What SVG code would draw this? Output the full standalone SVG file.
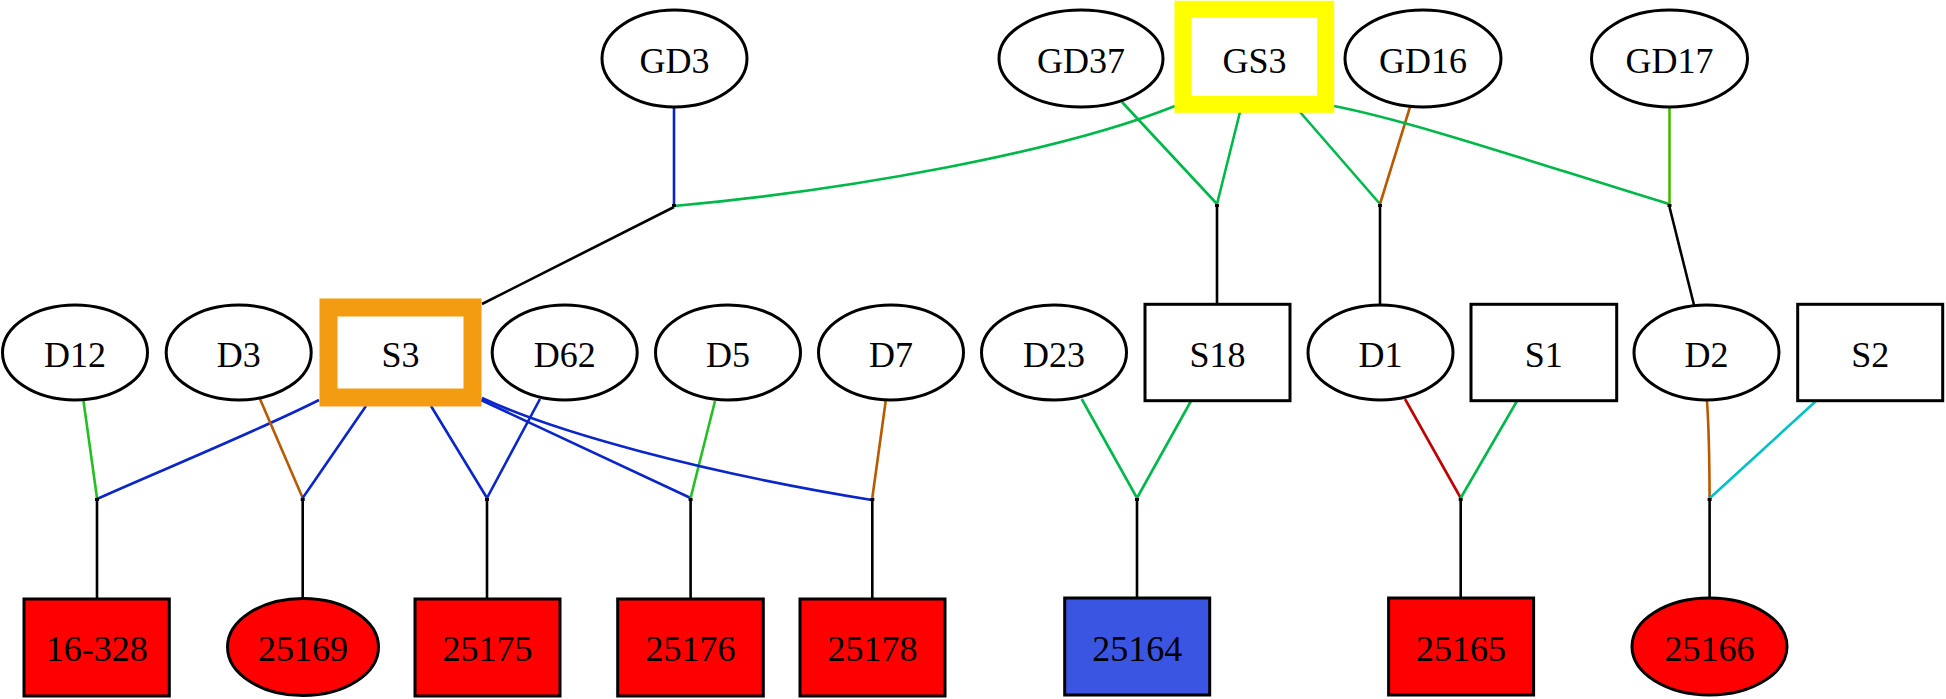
<svg xmlns="http://www.w3.org/2000/svg" width="1946" height="699" viewBox="0 0 1946 699">
<style>
.n{fill:#ffffff;stroke:#000;stroke-width:3}
.r{fill:#ff0000;stroke:#000;stroke-width:3}
.b{fill:#3a55e2;stroke:#000;stroke-width:3}
text{font-family:"Liberation Serif","Times New Roman",serif;font-size:36px;text-anchor:middle;fill:#000}
.e{fill:none;stroke-width:2.6}
.k{stroke:#000}
.bl{stroke:#0a26c8}
.g{stroke:#00b84a}
.lg{stroke:#22c022}
.yg{stroke:#44bb00}
.br{stroke:#b85a00}
.dr{stroke:#c00000}
.cy{stroke:#00c0c8}
.pt{fill:#000}
</style>
<rect width="1946" height="699" fill="#ffffff"/>
<g id="connectors">
<path class="e bl" d="M674,107 L674,205"/>
<path class="e g" d="M1175,106 C1060,152 850,190 674,206"/>
<path class="e k" d="M674,207 L482,304"/>
<path class="e g" d="M1122,102 L1217,204"/>
<path class="e g" d="M1240,112 L1217,204"/>
<path class="e k" d="M1217,207 L1217,304"/>
<path class="e g" d="M1300,112 L1380,204"/>
<path class="e br" d="M1410,107 L1380,204"/>
<path class="e k" d="M1380,207 L1380,305"/>
<path class="e g" d="M1334,106 C1415,122 1535,163 1669,204"/>
<path class="e yg" d="M1669.5,107 L1669.5,204"/>
<path class="e k" d="M1669.5,207 L1694,305"/>
<path class="e lg" d="M83.5,401 L97,498"/>
<path class="e bl" d="M319,400 C260,430 150,475 97,499"/>
<path class="e k" d="M97,501 L97,598"/>
<path class="e br" d="M260,399 L302.7,498"/>
<path class="e bl" d="M366,406 L302.7,498"/>
<path class="e k" d="M302.7,501 L302.7,598"/>
<path class="e bl" d="M431,406 L487,498"/>
<path class="e bl" d="M540,399 L487,498"/>
<path class="e k" d="M487,501 L487,598"/>
<path class="e bl" d="M481,400 L690.6,498"/>
<path class="e lg" d="M715,401 L690.6,498"/>
<path class="e k" d="M690.6,501 L690.6,598"/>
<path class="e bl" d="M482,398 C555,432 700,472 872,500"/>
<path class="e br" d="M885.7,401 L872.3,498"/>
<path class="e k" d="M872.3,501 L872.3,598"/>
<path class="e g" d="M1081.7,399 L1137,498"/>
<path class="e g" d="M1191,401 L1137,498"/>
<path class="e k" d="M1137,501 L1137,598"/>
<path class="e dr" d="M1405,399 L1460.7,498"/>
<path class="e g" d="M1517,401 L1460.7,498"/>
<path class="e k" d="M1460.7,501 L1460.7,598"/>
<path class="e br" d="M1707,401 C1709,430 1709.5,470 1709.6,498"/>
<path class="e cy" d="M1816,401 L1710,498"/>
<path class="e k" d="M1709.6,501 L1709.6,598"/>
<rect class="pt" x="672" y="204" width="4" height="3"/>
<rect class="pt" x="1215" y="204" width="4" height="3"/>
<rect class="pt" x="1378" y="204" width="4" height="3"/>
<rect class="pt" x="1667.5" y="204" width="4" height="3"/>
<rect class="pt" x="95" y="498" width="4" height="3"/>
<rect class="pt" x="300.7" y="498" width="4" height="3"/>
<rect class="pt" x="485" y="498" width="4" height="3"/>
<rect class="pt" x="688.6" y="498" width="4" height="3"/>
<rect class="pt" x="870.3" y="498" width="4" height="3"/>
<rect class="pt" x="1135" y="498" width="4" height="3"/>
<rect class="pt" x="1458.7" y="498" width="4" height="3"/>
<rect class="pt" x="1707.6" y="498" width="4" height="3"/>
</g>
<g id="GD3"><ellipse class="n" cx="674.5" cy="58.5" rx="72.5" ry="48.5"/><text x="674.5" y="72.5">GD3</text></g>
<g id="GD37"><ellipse class="n" cx="1081" cy="58.5" rx="82" ry="48.5"/><text x="1081" y="72.5">GD37</text></g>
<g id="GS3"><rect x="1183" y="9.3" width="142.7" height="95" fill="#ffffff" stroke="#ffff00" stroke-width="17"/><text x="1254.5" y="72.5">GS3</text></g>
<g id="GD16"><ellipse class="n" cx="1423" cy="58.5" rx="78" ry="48.5"/><text x="1423" y="72.5">GD16</text></g>
<g id="GD17"><ellipse class="n" cx="1669.5" cy="58.5" rx="78" ry="48.5"/><text x="1669.5" y="72.5">GD17</text></g>
<g id="D12"><ellipse class="n" cx="75" cy="352.5" rx="72.5" ry="47.5"/><text x="75" y="367">D12</text></g>
<g id="D3"><ellipse class="n" cx="238.7" cy="352.5" rx="72.5" ry="47.5"/><text x="238.7" y="367">D3</text></g>
<g id="S3"><rect x="328.5" y="307.5" width="144" height="90" fill="#ffffff" stroke="#f39c12" stroke-width="18"/><text x="400.5" y="367">S3</text></g>
<g id="D62"><ellipse class="n" cx="564.7" cy="352.5" rx="72.5" ry="47.5"/><text x="564.7" y="367">D62</text></g>
<g id="D5"><ellipse class="n" cx="728" cy="352.5" rx="72.5" ry="47.5"/><text x="728" y="367">D5</text></g>
<g id="D7"><ellipse class="n" cx="891" cy="352.5" rx="72.5" ry="47.5"/><text x="891" y="367">D7</text></g>
<g id="D23"><ellipse class="n" cx="1054" cy="352.5" rx="72.5" ry="47.5"/><text x="1054" y="367">D23</text></g>
<g id="S18"><rect class="n" x="1145" y="304.3" width="145" height="96.4"/><text x="1217.5" y="367">S18</text></g>
<g id="D1"><ellipse class="n" cx="1380.5" cy="352.5" rx="72.5" ry="47.5"/><text x="1380.5" y="367">D1</text></g>
<g id="S1"><rect class="n" x="1471" y="304.3" width="145.7" height="96.4"/><text x="1543.8" y="367">S1</text></g>
<g id="D2"><ellipse class="n" cx="1706.5" cy="352.5" rx="72.5" ry="47.5"/><text x="1706.5" y="367">D2</text></g>
<g id="S2"><rect class="n" x="1797.7" y="304.3" width="145" height="96.4"/><text x="1870.2" y="367">S2</text></g>
<g id="n16-328"><rect class="r" x="24" y="599" width="145.3" height="97"/><text x="96.7" y="660.5">16-328</text></g>
<g id="n25169"><ellipse class="r" cx="303" cy="647" rx="75.5" ry="48.5"/><text x="303" y="660.5">25169</text></g>
<g id="n25175"><rect class="r" x="415" y="599" width="145" height="97"/><text x="487.5" y="660.5">25175</text></g>
<g id="n25176"><rect class="r" x="617.7" y="599" width="145.6" height="97"/><text x="690.5" y="660.5">25176</text></g>
<g id="n25178"><rect class="r" x="800" y="599" width="145" height="97"/><text x="872.5" y="660.5">25178</text></g>
<g id="n25164"><rect class="b" x="1064.7" y="598" width="145" height="97"/><text x="1137.2" y="660.5">25164</text></g>
<g id="n25165"><rect class="r" x="1388.6" y="598" width="145" height="97"/><text x="1461" y="660.5">25165</text></g>
<g id="n25166"><ellipse class="r" cx="1709.5" cy="646.5" rx="77.5" ry="48.5"/><text x="1709.5" y="660.5">25166</text></g>
</svg>
